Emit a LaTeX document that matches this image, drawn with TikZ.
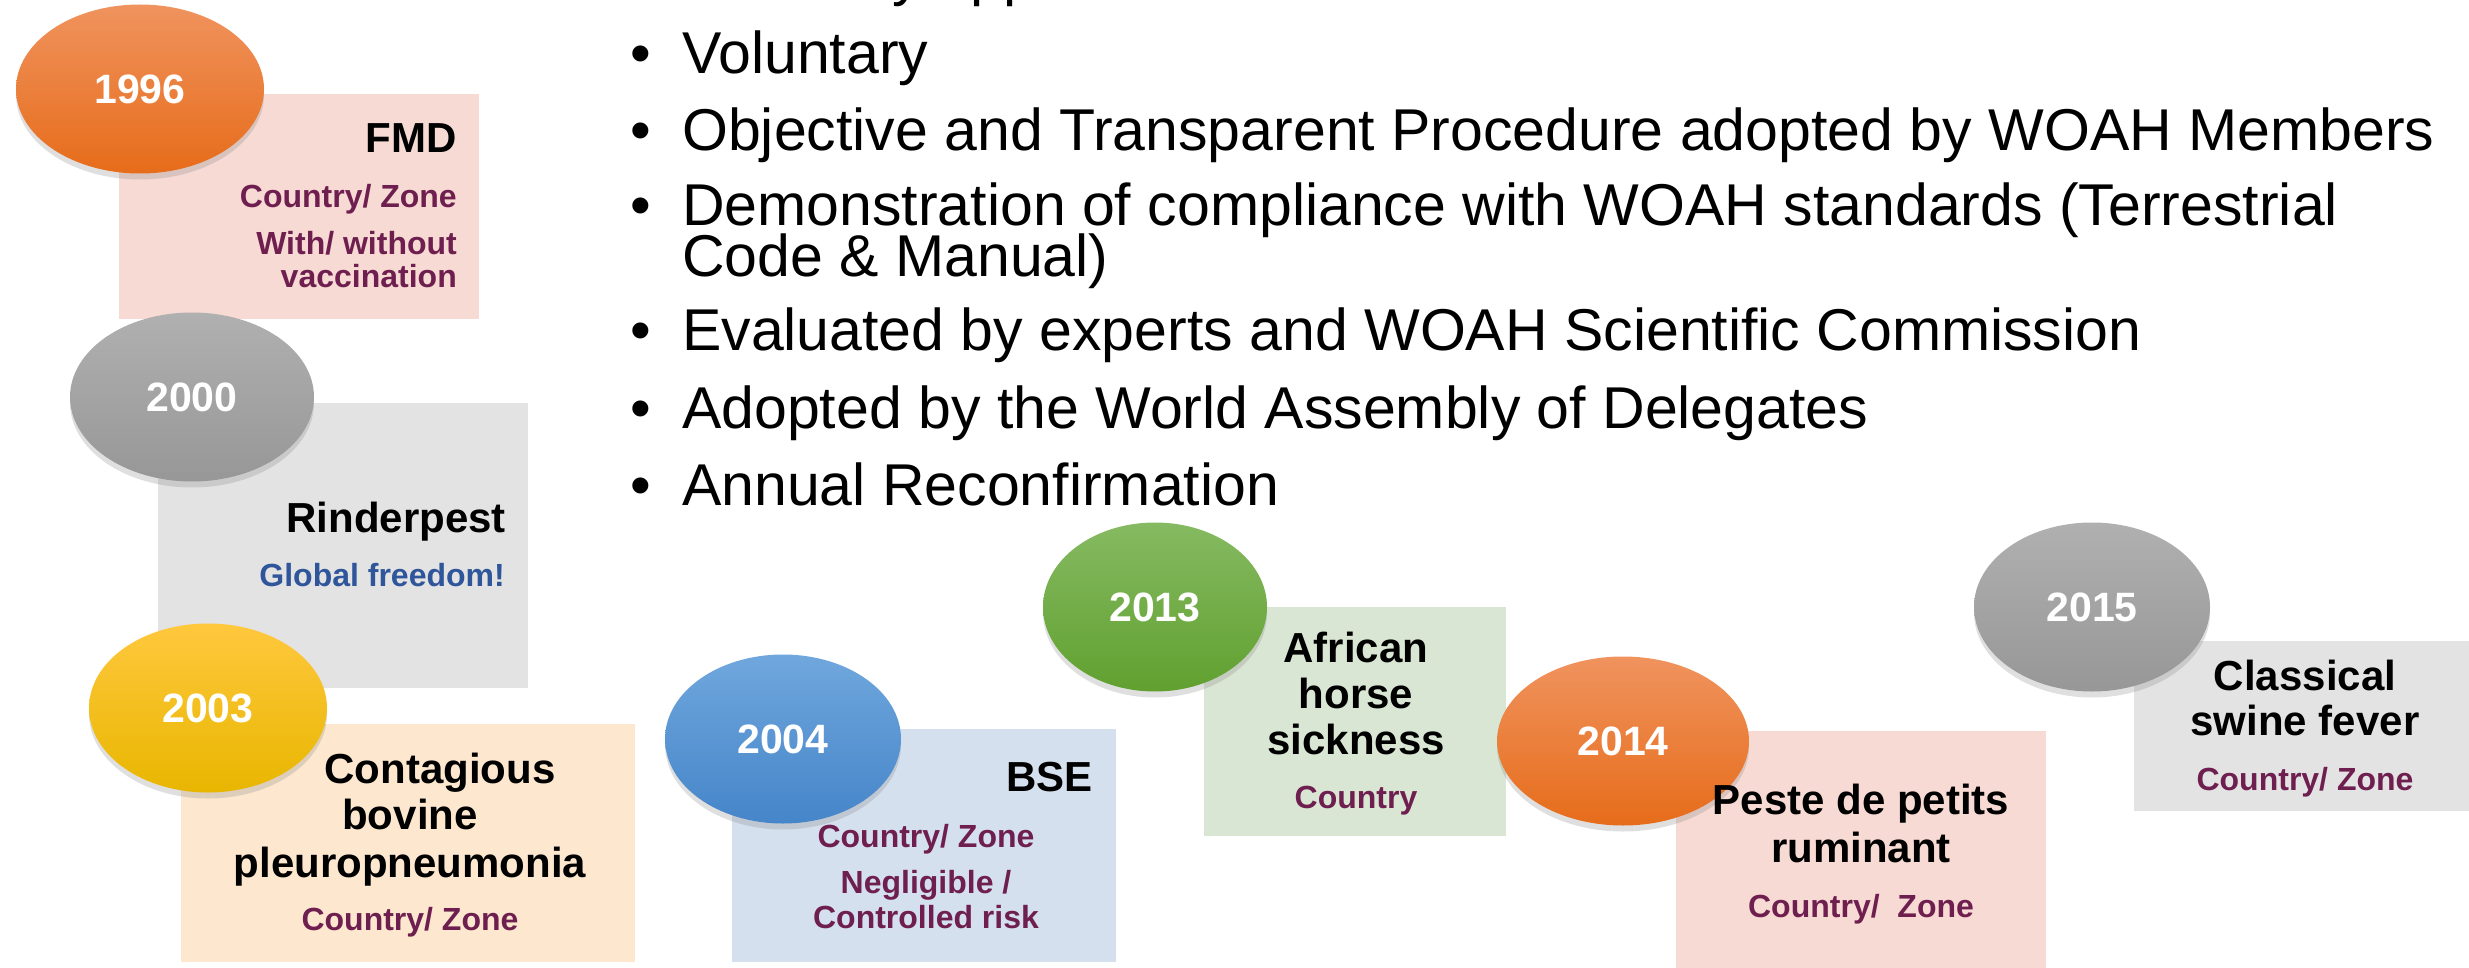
\documentclass[tikz,border=0pt]{standalone}
\usepackage{fontspec}
\setmainfont{Liberation Sans}
\usetikzlibrary{shapes.geometric,shadows}

\definecolor{plum}{HTML}{6E1F4F}
\definecolor{freeblue}{HTML}{2F569A}
\definecolor{or1}{HTML}{F0935E}
\definecolor{or2}{HTML}{E66C1A}
\definecolor{gr1}{HTML}{B0B0B0}
\definecolor{gr2}{HTML}{979797}
\definecolor{ye1}{HTML}{FFC83E}
\definecolor{ye2}{HTML}{E8B600}
\definecolor{bl1}{HTML}{70A7DD}
\definecolor{bl2}{HTML}{4585C9}
\definecolor{gn1}{HTML}{86BA62}
\definecolor{gn2}{HTML}{60A02F}
\definecolor{pinkbg}{HTML}{F7DAD3}
\definecolor{greybg}{HTML}{E3E3E3}
\definecolor{peachbg}{HTML}{FDE8CF}
\definecolor{bluebg}{HTML}{D5E0EE}
\definecolor{greenbg}{HTML}{DAE6D4}

\begin{document}
\begin{tikzpicture}[x=1pt,y=-1pt,
  year/.style={ellipse,inner sep=0pt,minimum height=169,text=white,
    font=\fontsize{41}{46}\selectfont\bfseries,
    drop shadow={shadow xshift=0pt,shadow yshift=-6pt,opacity=0.25}},
  panel/.style={rectangle,inner sep=0pt,anchor=north west},
  head/.style={font=\fontsize{42}{46}\selectfont\bfseries,inner sep=0pt},
  note/.style={font=\fontsize{32}{36}\selectfont\bfseries,text=plum,inner sep=0pt},
  item/.style={font=\fontsize{59}{60}\selectfont,inner sep=0pt,anchor=base west}]
\useasboundingbox (0,0) rectangle (2469,968);

% coloured panels
\node[panel,fill=pinkbg,minimum width=360,minimum height=225] (fmdbox) at (119,94) {};
\node[panel,fill=greybg,minimum width=370,minimum height=285] (rpbox) at (158,403) {};
\node[panel,fill=peachbg,minimum width=454,minimum height=238] (cbppbox) at (181,724) {};
\node[panel,fill=bluebg,minimum width=384,minimum height=233] (bsebox) at (732,729) {};
\node[panel,fill=greenbg,minimum width=302,minimum height=229] (ahsbox) at (1204,607) {};
\node[panel,fill=pinkbg,minimum width=370,minimum height=245] (pprbox) at (1676,731) {};
\node[panel,fill=greybg,minimum width=345,minimum height=170] (csfbox) at (2134,641) {};

% years
\node[year,top color=or1,bottom color=or2,minimum width=248] (y1996) at (140,89) {1996};
\node[year,top color=gr1,bottom color=gr2,minimum width=244] (y2000) at (192,397) {2000};
\node[year,top color=ye1,bottom color=ye2,minimum width=238] (y2003) at (208,708) {2003};
\node[year,top color=bl1,bottom color=bl2,minimum width=236] (y2004) at (783,739) {2004};
\node[year,top color=gn1,bottom color=gn2,minimum width=224] (y2013) at (1155,607) {2013};
\node[year,top color=or1,bottom color=or2,minimum width=252] (y2014) at (1623,741) {2014};
\node[year,top color=gr1,bottom color=gr2,minimum width=236] (y2015) at (2092,607) {2015};

% FMD
\node[head,anchor=base east] (fmd) at (457,153) {FMD};
\node[note,anchor=base east] (fmdzone) at (457,208) {Country/ Zone};
\node[note,anchor=base east] (fmdvac1) at (457,255) {With/ without};
\node[note,anchor=base east] (fmdvac2) at (457,288) {vaccination};

% Rinderpest
\node[head,anchor=base east] (rp) at (506,532) {Rinderpest};
\node[note,text=freeblue,anchor=base east] (rpfree) at (505,586) {Global freedom!};

% CBPP
\node[head,anchor=base] (cbpp1) at (440,783) {Contagious};
\node[head,anchor=base] (cbpp2) at (410,829) {bovine};
\node[head,anchor=base] (cbpp3) at (410,877) {pleuropneumonia};
\node[note,anchor=base] (cbppzone) at (410,930) {Country/ Zone};

% BSE
\node[head,anchor=base east] (bse) at (1093,791) {BSE};
\node[note,anchor=base] (bsezone) at (926,847) {Country/ Zone};
\node[note,anchor=base] (bserisk1) at (926,893) {Negligible /};
\node[note,anchor=base] (bserisk2) at (926,928) {Controlled risk};

% AHS
\node[head,anchor=base] (ahs1) at (1356,662) {African};
\node[head,anchor=base] (ahs2) at (1356,708) {horse};
\node[head,anchor=base] (ahs3) at (1356,754) {sickness};
\node[note,anchor=base] (ahszone) at (1356,808) {Country};

% PPR
\node[head,anchor=base] (ppr1) at (1861,814) {Peste de petits};
\node[head,anchor=base] (ppr2) at (1861,862) {ruminant};
\node[note,anchor=base] (pprzone) at (1861,917) {Country/\ \ Zone};

% CSF
\node[head,anchor=base] (csf1) at (2305,690) {Classical};
\node[head,anchor=base] (csf2) at (2305,735) {swine fever};
\node[note,anchor=base] (csfzone) at (2305,790) {Country/ Zone};

% bullet list
\foreach \y [count=\i] in {-5,74,151,226,351,428,505}
  \node[item] (dot\i) at (630,\y) {•};
\node[item] (pt1) at (682,-5) {Currently applied to 6 diseases};
\node[item] (pt2) at (682,74) {Voluntary};
\node[item] (pt3) at (682,151) {Objective and Transparent Procedure adopted by WOAH Members};
\node[item] (pt4) at (682,226) {Demonstration of compliance with WOAH standards (Terrestrial};
\node[item] (pt4b) at (682,277) {Code \& Manual)};
\node[item] (pt5) at (682,351) {Evaluated by experts and WOAH Scientific Commission};
\node[item] (pt6) at (682,428) {Adopted by the World Assembly of Delegates};
\node[item] (pt7) at (682,505) {Annual Reconfirmation};
\end{tikzpicture}
\end{document}
